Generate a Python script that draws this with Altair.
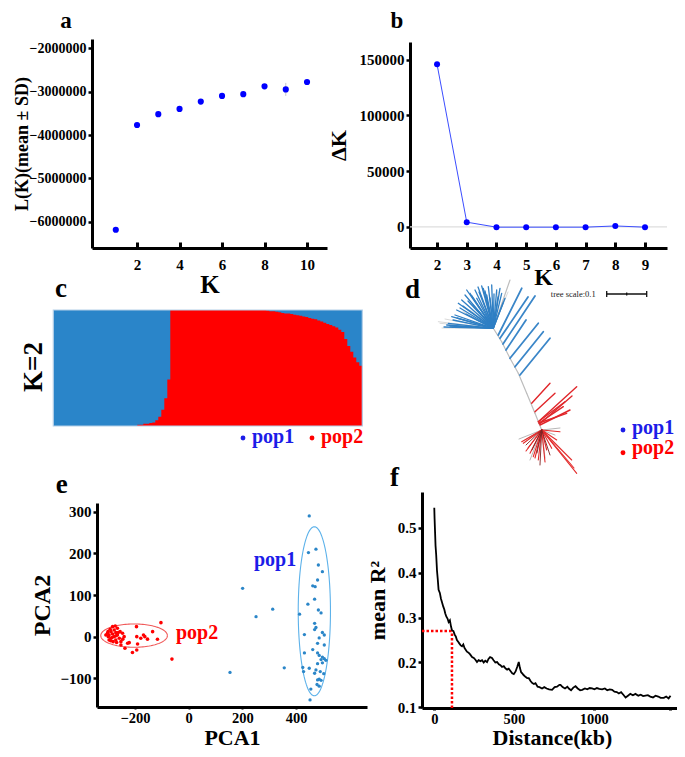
import altair as alt
import numpy as np
import pandas as pd

FONT = "Liberation Serif"
W, H = 669, 741
M = 8  # page margin: reference pixel -> chart pixel
BLACK = "black"
BLUE_PT = "#0000ff"
C_BLUE = "#2a85c9"
RED = "#ff0000"

# ---------------- data ----------------
# a: Evanno L(K)
A_K = [1, 2, 3, 4, 5, 6, 7, 8, 9, 10]
A_LK = [-6180000, -3770000, -3520000, -3400000, -3230000, -3100000, -3060000, -2880000, -2950000, -2780000]
A_SD = [15000, 20000, 20000, 15000, 20000, 20000, 20000, 30000, 150000, 25000]

# b: Delta K
B_K = [2, 3, 4, 5, 6, 7, 8, 9]
B_DK = [146000, 4200, -300, -300, -300, -300, 800, -300]

# c: STRUCTURE K=2 membership (pop2 fraction per individual)
C_Q = [0, 0, 0, 0, 0, 0, 0, 0, 0, 0, 0, 0, 0, 0, 0, 0, 0, 0, 0, 0,
       0, 0, 0, 0, 0, 0, 0, 0, 0.01, 0.01, 0.02, 0.02, 0.025, 0.03, 0.05, 0.08,
       0.14, 0.24, 0.40,
       1, 1, 1, 1, 1, 1, 1, 1, 1, 1, 1, 1, 1, 1, 1, 1, 1, 1, 1, 1, 1, 1, 1, 1,
       1, 1, 1, 1, 1, 1, 1, 1,
       0.995, 0.99, 0.99, 0.985, 0.98, 0.975, 0.97, 0.97, 0.965, 0.96, 0.955,
       0.95, 0.945, 0.94, 0.93, 0.925, 0.92, 0.91, 0.90, 0.89, 0.88, 0.87, 0.86,
       0.85, 0.83, 0.81, 0.75, 0.69, 0.64, 0.59, 0.55, 0.52]

# d: unrooted tree (layout units; scale bar 0.1 = 40 units)
TREE_TRUNK = [(110, 10, 93.3, 58.3), (93.3, 58.3, 101.7, 71.7), (101.7, 71.7, 110, 88.3),
              (110, 88.3, 118.3, 103.3), (118.3, 103.3, 126.7, 123.3),
              (126.7, 123.3, 135, 143.3), (135, 143.3, 141.7, 160)]
HUB1 = (93.3, 58.3)
HUB2 = (141.7, 160)
BLUE_FAN_ENDS = [(66.7, 20), (70, 23.3), (75, 20), (81.7, 16), (83.3, 18.3), (88.3, 16.7),
                 (91.7, 15), (96.7, 20), (100, 18.3), (101.7, 23.3), (105, 28.3), (65, 25),
                 (61.7, 30), (58.3, 33.3), (56.7, 40), (55, 45), (51.7, 46.7), (48.3, 53.3),
                 (46.7, 55), (76.7, 28.3), (86.7, 25), (72, 26), (79, 22), (94, 24), (60, 38),
                 (53, 50), (68, 31), (63, 36), (78, 17), (85, 21), (90, 28), (98, 27),
                 (57, 48), (50, 56), (44, 57), (103, 33), (73, 35), (66, 44)]
GRAY_FAN_ENDS = [(38.3, 51.7), (40, 53.3), (45, 49), (63, 41.7), (98, 22), (85, 30),
                 (42, 58), (70, 40), (80, 33), (108, 22)]
BLUE_LONG = [(98.3, 65, 121.7, 18.3), (100, 68.3, 128, 27), (103, 74, 135, 26),
             (110, 88.3, 138.3, 53.3), (115, 96.7, 143.3, 61.7), (120, 105, 150, 68.3),
             (106, 80, 126, 50)]
RED_TRUNK = [(131.7, 133.3, 150, 113.3), (135, 141.7, 155, 123.3), (138.3, 151.7, 176.7, 116.7),
             (138.3, 151.7, 165, 131.7), (139, 153, 166.7, 143.3), (139, 153, 163.3, 136.7),
             (140, 155, 170, 140), (139.5, 154, 172, 126)]
RED_HUB_ENDS = [(121.7, 171.7), (123.3, 173.3), (130, 183.3), (133.3, 186.7), (138.3, 190),
                (146.7, 180), (151.7, 178.3), (156.7, 170), (160, 161.7), (176.7, 203.3),
                (171.7, 190), (128, 178), (135, 188), (145, 192), (174, 198), (126, 181)]
DARK_HUB_ENDS = [(126, 175), (150, 185), (140, 195), (132, 180), (137, 183)]
GRAY_HUB_ENDS = [(125, 170), (145, 188), (155, 165), (160, 158), (130, 190), (119, 169)]
TREE_BAR = (206.7, 24, 0.1)  # x start, y, length in substitutions/site
TREE_UNITS_PER_DIST = 400

# e: PCA
E_POP1 = [(449, 290), (474, 210), (446, 202), (483, 172), (498, 156), (480, 136), (462, 122),
          (471, 120), (469, 90), (444, 78), (413, 54), (483, 64), (493, 57), (469, 32),
          (474, 22), (469, 17), (498, 10), (505, 4), (431, 5), (486, -3), (480, -16),
          (505, -20), (462, -31), (431, -39), (480, -39), (486, -45), (498, -49), (493, -55),
          (505, -53), (511, -57), (498, -63), (480, -65), (425, -74), (449, -76), (428, -84),
          (474, -80), (469, -88), (490, -84), (503, -89), (486, -102), (480, -104), (493, -105),
          (478, -115), (455, -126), (486, -119), (452, -152),
          (201, 116), (251, 48), (313, 66), (356, -75), (154, -86)]
E_POP2 = [(-302, 8), (-296, 4), (-289, 12), (-283, 6.5), (-277, 16), (-271, 9.6), (-299, 0),
          (-289, -4), (-277, 0), (-265, 4), (-258, -4), (-271, -8), (-252, -12), (-283, 24),
          (-273, 25.6), (-246, 8), (-240, 0), (-227, -16), (-237, -28), (-209, -38), (-193, -32),
          (-190, -17.6), (-193, 0), (-178, -4), (-163, 0), (-168, 4), (-153, -6), (-134, 12),
          (-116, -6.4), (-103, 33.6), (-194, 24), (-221, -14.4), (-252, -20), (-255, 12),
          (-265, 20), (-292, 17.6), (-308, 4), (-296, -8), (-281, -12), (-285, -2), (-270, 2),
          (-262, 10), (-290, -10), (-300, 12), (-268, -14), (-245, -6), (-62, -54)]
E_ELLIPSES = [("pop2", -203, 2.5, 124, 28), ("pop1", 468, 61, 60, 203)]
E_LABELS = [("pop1", 243, 184), ("pop2", -47, 9)]

# f: LD decay
F_LD = [(0, 0.545), (2, 0.52), (5, 0.49), (8, 0.46), (12, 0.44), (17, 0.405), (22, 0.385),
        (27, 0.362), (35, 0.355), (42, 0.342), (48, 0.335), (56, 0.325), (63, 0.318),
        (69, 0.309), (76, 0.302), (83, 0.298), (90, 0.290), (98, 0.294), (105, 0.28),
        (111, 0.272), (120, 0.27), (128, 0.262), (135, 0.258), (142, 0.25), (150, 0.246),
        (158, 0.242), (166, 0.238), (174, 0.236), (182, 0.24), (190, 0.232), (198, 0.228),
        (205, 0.224), (215, 0.222), (225, 0.218), (237, 0.212), (248, 0.21), (258, 0.206),
        (268, 0.201), (278, 0.205), (290, 0.203), (300, 0.205), (310, 0.2), (320, 0.204),
        (331, 0.201), (340, 0.208), (350, 0.212), (362, 0.21), (372, 0.205), (383, 0.2),
        (394, 0.201), (405, 0.196), (415, 0.194), (425, 0.19), (436, 0.192), (446, 0.187),
        (457, 0.184), (467, 0.186), (478, 0.181), (489, 0.176), (499, 0.174), (510, 0.18),
        (520, 0.19), (530, 0.201), (537, 0.188), (545, 0.178), (551, 0.176), (560, 0.172),
        (572, 0.168), (583, 0.165), (593, 0.165), (605, 0.158), (615, 0.154), (625, 0.152),
        (635, 0.154), (648, 0.146), (660, 0.145), (676, 0.142), (690, 0.145), (705, 0.142),
        (720, 0.14), (739, 0.139), (755, 0.145), (770, 0.146), (785, 0.15), (792, 0.15),
        (805, 0.145), (820, 0.142), (835, 0.146), (844, 0.142), (858, 0.138), (872, 0.144),
        (886, 0.147), (900, 0.142), (915, 0.138), (928, 0.139), (945, 0.142), (960, 0.14),
        (975, 0.143), (990, 0.142), (1005, 0.14), (1020, 0.143), (1035, 0.141), (1053, 0.14),
        (1070, 0.142), (1085, 0.138), (1100, 0.14), (1116, 0.139), (1130, 0.135),
        (1145, 0.134), (1158, 0.131), (1172, 0.134), (1186, 0.128), (1200, 0.122),
        (1215, 0.126), (1230, 0.13), (1246, 0.127), (1262, 0.13), (1280, 0.126),
        (1295, 0.128), (1310, 0.125), (1325, 0.126), (1340, 0.127), (1355, 0.124),
        (1372, 0.122), (1388, 0.126), (1405, 0.124), (1420, 0.121), (1440, 0.121),
        (1455, 0.124), (1470, 0.12), (1482, 0.126)]
F_HALF_R2 = 0.27
F_HALF_DIST = 111

# ---------------- layout (reference-pixel ranges of each panel) ----------------
A_XR, A_YR = (92, 327), (248, 39)
B_XR, B_YR = (410, 667), (248, 42)
C_XR, C_YR = (53.3, 362.3), (426, 310)
D_XR, D_YR = (400, 685), (270, 480)
E_XR, E_YR = (97, 367), (707, 503)
F_XR, F_YR = (422, 682), (708, 492)


def scale(domain, r):
    return alt.Scale(domain=domain, range=[r[0] - M, r[1] - M], nice=False, zero=False)


AX_BASE = dict(grid=False, domainColor=BLACK, domainWidth=3, tickColor=BLACK,
               labelFont=FONT, labelFontSize=15, labelFontWeight="bold", labelColor=BLACK,
               labelFlush=False, labelOverlap=False,
               titleFont=FONT, titleFontWeight="bold", titleColor=BLACK)


def x_axis(ref_y, values, title, **kw):
    d = dict(AX_BASE, orient="bottom", offset=(ref_y - M) - H, values=values, title=title,
             tickWidth=3, tickSize=5, labelPadding=3, titleFontSize=25, titlePadding=0)
    d.update(kw)
    return alt.Axis(**d)


def y_axis(ref_x, values, title, **kw):
    d = dict(AX_BASE, orient="left", offset=-(ref_x - M), values=values, title=title,
             tickWidth=2.5, tickSize=4, labelPadding=2, titleFontSize=22, titlePadding=6)
    d.update(kw)
    return alt.Axis(**d)


# inward x ticks (as in the reference's top row)
INWARD = dict(tickSize=alt.ExprRef(expr="-6"), labelPadding=15)

# ---------------- panel a ----------------
df_a = pd.DataFrame({"K": A_K, "L": A_LK,
                     "lo": [l - s for l, s in zip(A_LK, A_SD)],
                     "hi": [l + s for l, s in zip(A_LK, A_SD)]})
sa_x = scale([-0.12, 10.94], A_XR)
sa_y = scale([-6600000, -1790000], A_YR)
axa_x = x_axis(248, [2, 4, 6, 8, 10], "K", **INWARD)
axa_y = y_axis(92, [-6000000, -5000000, -4000000, -3000000, -2000000], "L(K)(mean ± SD)",
               format="d", labelFontSize=14, titleFontSize=18, titleBaseline="bottom",
               titleX=(31 - M) - (A_XR[0] - M))
a_err = alt.Chart(df_a).mark_rule(color="#c8c8c8", strokeWidth=1).encode(
    x=alt.X("K:Q", scale=sa_x, axis=axa_x), y=alt.Y("lo:Q", scale=sa_y, axis=axa_y), y2="hi:Q")
a_pts = alt.Chart(df_a).mark_circle(size=38, color=BLUE_PT, opacity=1).encode(
    x=alt.X("K:Q", scale=sa_x, axis=axa_x), y=alt.Y("L:Q", scale=sa_y, axis=axa_y))
panel_a = alt.layer(a_err, a_pts)

# ---------------- panel b ----------------
B_XD = [1.09, 9.74]
df_b = pd.DataFrame({"K": B_K, "dK": B_DK})
sb_x = scale(B_XD, B_XR)
sb_y = scale([-19000, 166000], B_YR)
axb_x = x_axis(248, B_K, "K", titleX=543 - M, titleBaseline="alphabetic", titleY=284 - 248,
               titleFontSize=24, **INWARD)
axb_y = y_axis(410, [0, 50000, 100000, 150000], "ΔK", format="d", titlePadding=9)
df_b0 = pd.DataFrame({"x0": [B_XD[0]], "x1": [B_XD[1]], "y": [0]})
b_zero = alt.Chart(df_b0).mark_rule(color="#dedede", strokeWidth=1.2).encode(
    x=alt.X("x0:Q", scale=sb_x, axis=axb_x), x2="x1:Q", y=alt.Y("y:Q", scale=sb_y, axis=axb_y))
b_line = alt.Chart(df_b).mark_line(color="#3b4dff", strokeWidth=1).encode(
    x=alt.X("K:Q", scale=sb_x, axis=axb_x), y=alt.Y("dK:Q", scale=sb_y, axis=axb_y))
b_pts = alt.Chart(df_b).mark_circle(size=36, color=BLUE_PT, opacity=1).encode(
    x=alt.X("K:Q", scale=sb_x, axis=axb_x), y=alt.Y("dK:Q", scale=sb_y, axis=axb_y))
panel_b = alt.layer(b_zero, b_line, b_pts)

# ---------------- panel c ----------------
# step area: each individual's value held across its own column
df_c = pd.DataFrame({"i": list(range(len(C_Q) + 1)), "q": C_Q + [C_Q[-1]]})
sc_x = scale([0, len(C_Q)], C_XR)
sc_y = scale([0, 1], C_YR)
df_cf = pd.DataFrame({"x0": [0], "x1": [len(C_Q)], "y0": [0], "y1": [1]})
c_blue = alt.Chart(df_cf).mark_rect(color=C_BLUE).encode(
    x=alt.X("x0:Q", scale=sc_x, axis=None), x2="x1:Q",
    y=alt.Y("y0:Q", scale=sc_y, axis=None), y2="y1:Q")
c_red = alt.Chart(df_c).transform_calculate(z="0").mark_area(
    color=RED, interpolate="step-after", opacity=1).encode(
    x=alt.X("i:Q", scale=sc_x, axis=None),
    y=alt.Y("q:Q", scale=sc_y, axis=None), y2="z:Q")
c_frame = alt.Chart(df_cf).mark_rect(fillOpacity=0, stroke="#b4cfe8", strokeWidth=1.2).encode(
    x=alt.X("x0:Q", scale=sc_x, axis=None), x2="x1:Q",
    y=alt.Y("y0:Q", scale=sc_y, axis=None), y2="y1:Q")
panel_c = alt.layer(c_blue, c_red, c_frame)

# ---------------- panel d (tree) ----------------
sd_x = scale([0, D_XR[1] - D_XR[0]], D_XR)
sd_y = scale([0, D_YR[1] - D_YR[0]], D_YR)


def seg_df(segs):
    return pd.DataFrame(segs, columns=["x0", "y0", "x1", "y1"])


def from_hub(hub, ends):
    return [(hub[0], hub[1], e[0], e[1]) for e in ends]


tree_groups = [
    (TREE_TRUNK, "#bdbdbd", 1.2),
    (from_hub(HUB1, GRAY_FAN_ENDS), "#cfcfcf", 0.8),
    (from_hub(HUB1, BLUE_FAN_ENDS), "#2f7fc4", 1.3),
    (BLUE_LONG, "#3a86c8", 1.8),
    (from_hub(HUB2, GRAY_HUB_ENDS), "#a5a5a5", 0.8),
    (RED_TRUNK, "#e0262a", 1.4),
    (from_hub(HUB2, RED_HUB_ENDS), "#e32b2b", 1.1),
    (from_hub(HUB2, DARK_HUB_ENDS), "#7a2222", 0.9),
]
d_layers = []
for segs, col, w in tree_groups:
    d_layers.append(alt.Chart(seg_df(segs)).mark_rule(color=col, strokeWidth=w, strokeCap="round").encode(
        x=alt.X("x0:Q", scale=sd_x, axis=None), y=alt.Y("y0:Q", scale=sd_y, axis=None),
        x2="x1:Q", y2="y1:Q"))
bx, by, blen = TREE_BAR
bl = blen * TREE_UNITS_PER_DIST
bar_segs = [(bx, by, bx + bl, by), (bx, by - 3, bx, by + 3), (bx + bl, by - 3, bx + bl, by + 3),
            (bx + bl / 2, by - 1.5, bx + bl / 2, by + 1.5)]
d_layers.append(alt.Chart(seg_df(bar_segs)).mark_rule(color="#111111", strokeWidth=1.3).encode(
    x=alt.X("x0:Q", scale=sd_x, axis=None), y=alt.Y("y0:Q", scale=sd_y, axis=None),
    x2="x1:Q", y2="y1:Q"))
d_layers.append(alt.Chart(pd.DataFrame({"x": [bx - 11], "y": [by], "t": [f"tree scale:{blen}"]}))
                .mark_text(font=FONT, fontSize=8.5, color="#222222", align="right", baseline="middle")
                .encode(x=alt.X("x:Q", scale=sd_x, axis=None), y=alt.Y("y:Q", scale=sd_y, axis=None),
                        text="t:N"))
panel_d = alt.layer(*d_layers)

# ---------------- panel e ----------------
se_x = scale([-341, 664], E_XR)
se_y = scale([-169, 321], E_YR)
axe_x = x_axis(707, [-200, 0, 200, 400], "PCA1", tickSize=2, tickWidth=2, labelPadding=2,
               labelFontSize=14.5, titleFontSize=22, titleBaseline="alphabetic", titleY=37.5)
axe_y = y_axis(97, [-100, 0, 100, 200, 300], "PCA2", titleFontSize=24, titlePadding=5)
df_e1 = pd.DataFrame(E_POP1, columns=["pc1", "pc2"])
df_e2 = pd.DataFrame(E_POP2, columns=["pc1", "pc2"])
ell_rows = []
tt = np.linspace(0, 2 * np.pi, 121)
for name, cx, cy, rx, ry in E_ELLIPSES:
    for k, t in enumerate(tt):
        ell_rows.append({"pop": name, "o": k, "pc1": cx + rx * np.cos(t), "pc2": cy + ry * np.sin(t)})
df_ell = pd.DataFrame(ell_rows)
df_el = pd.DataFrame(E_LABELS, columns=["t", "pc1", "pc2"])


def e_enc(**kw):
    return dict(x=alt.X("pc1:Q", scale=se_x, axis=axe_x), y=alt.Y("pc2:Q", scale=se_y, axis=axe_y), **kw)


e_ell1 = alt.Chart(df_ell).transform_filter("datum.pop == 'pop1'").mark_line(
    color="#5db2ea", strokeWidth=1.1).encode(**e_enc(order="o:Q"))
e_ell2 = alt.Chart(df_ell).transform_filter("datum.pop == 'pop2'").mark_line(
    color="#f05a5a", strokeWidth=1.1).encode(**e_enc(order="o:Q"))
e_p1 = alt.Chart(df_e1).mark_circle(size=11, color="#2b86c8", opacity=1).encode(**e_enc())
e_p2 = alt.Chart(df_e2).mark_circle(size=13, color=RED, opacity=1).encode(**e_enc())
e_lab1 = alt.Chart(df_el[df_el.t == "pop1"]).mark_text(
    font=FONT, fontSize=20, fontWeight="bold", color="#1c1ce8", align="left", baseline="middle"
).encode(**e_enc(text="t:N"))
e_lab2 = alt.Chart(df_el[df_el.t == "pop2"]).mark_text(
    font=FONT, fontSize=20, fontWeight="bold", color=RED, align="left", baseline="middle"
).encode(**e_enc(text="t:N"))
panel_e = alt.layer(e_ell1, e_ell2, e_p1, e_p2, e_lab1, e_lab2)

# ---------------- panel f ----------------
F_XD = [-77, 1554]
sf_x = scale(F_XD, F_XR)
sf_y = scale([0.0985, 0.58], F_YR)
axf_x = x_axis(708, [0, 500, 1000, 1480], "Distance(kb)", tickSize=2, tickWidth=3, format="d",
               labelExpr="datum.value > 1200 ? '' : datum.label", labelPadding=2,
               labelFontSize=14.5, titleFontSize=22, titleBaseline="alphabetic", titleY=36.5)
axf_y = y_axis(422, [0.1, 0.2, 0.3, 0.4, 0.5], "mean R²", format=".1f", titleFontSize=22,
               titlePadding=8)
df_f = pd.DataFrame(F_LD, columns=["d", "r2"])
f_line = alt.Chart(df_f).mark_line(color=BLACK, strokeWidth=1.8).encode(
    x=alt.X("d:Q", scale=sf_x, axis=axf_x), y=alt.Y("r2:Q", scale=sf_y, axis=axf_y))
df_fh = pd.DataFrame({"d0": [F_XD[0]], "d1": [F_HALF_DIST], "r2": [F_HALF_R2]})
df_fv = pd.DataFrame({"d": [F_HALF_DIST], "r0": [0.0985], "r1": [F_HALF_R2]})
f_h = alt.Chart(df_fh).mark_rule(color=RED, strokeWidth=2.5, strokeDash=[2.5, 2]).encode(
    x=alt.X("d0:Q", scale=sf_x, axis=axf_x), x2="d1:Q", y=alt.Y("r2:Q", scale=sf_y, axis=axf_y))
f_v = alt.Chart(df_fv).mark_rule(color=RED, strokeWidth=2.5, strokeDash=[2.5, 2]).encode(
    x=alt.X("d:Q", scale=sf_x, axis=axf_x), y=alt.Y("r0:Q", scale=sf_y, axis=axf_y), y2="r1:Q")
panel_f = alt.layer(f_h, f_v, f_line)

# ---------------- static labels ----------------
LETTERS = [("a", 66, 28, 23), ("b", 397, 28, 23), ("c", 61, 297, 27), ("d", 412.5, 298, 27),
           ("e", 61.7, 493, 27), ("f", 394.5, 486, 27)]
LEGENDS = [("pop1", "#1c1ce8", 243, 438, 437), ("pop2", RED, 312, 438, 437),
           ("pop1", "#1c1ce8", 623, 430, 428), ("pop2", RED, 623, 452.7, 448)]

statics = []
for t, x, y, fs in LETTERS:
    statics.append(alt.Chart(pd.DataFrame({"t": [t]})).mark_text(
        font=FONT, fontSize=fs, fontWeight="bold", color=BLACK, align="center",
        baseline="alphabetic").encode(text="t:N", x=alt.value(x - M), y=alt.value(y - M)))
for t, col, dx, dy, ty in LEGENDS:
    statics.append(alt.Chart(pd.DataFrame({"t": [t]})).mark_circle(size=24, color=col, opacity=1)
                   .encode(x=alt.value(dx - M), y=alt.value(dy - M)))
    statics.append(alt.Chart(pd.DataFrame({"t": [t]})).mark_text(
        font=FONT, fontSize=20, fontWeight="bold", color=col, align="left", baseline="middle")
        .encode(text="t:N", x=alt.value(dx + 9 - M), y=alt.value(ty - M)))
statics.append(alt.Chart(pd.DataFrame({"t": ["K=2"]})).mark_text(
    font=FONT, fontSize=27, fontWeight="bold", color=BLACK, angle=270, align="center",
    baseline="middle").encode(text="t:N", x=alt.value(34 - M), y=alt.value(367 - M)))

chart = alt.layer(panel_a, panel_b, panel_c, panel_d, panel_e, panel_f, *statics).resolve_scale(
    x="independent", y="independent").resolve_axis(x="independent", y="independent").properties(
    width=W, height=H, autosize=alt.AutoSizeParams(type="none"), padding=0,
    background="white").configure_view(stroke=None).configure_axis(
    labelFont=FONT, titleFont=FONT).configure_text(font=FONT)

chart.save("out.html", embed_options={"renderer": "svg", "actions": False})
